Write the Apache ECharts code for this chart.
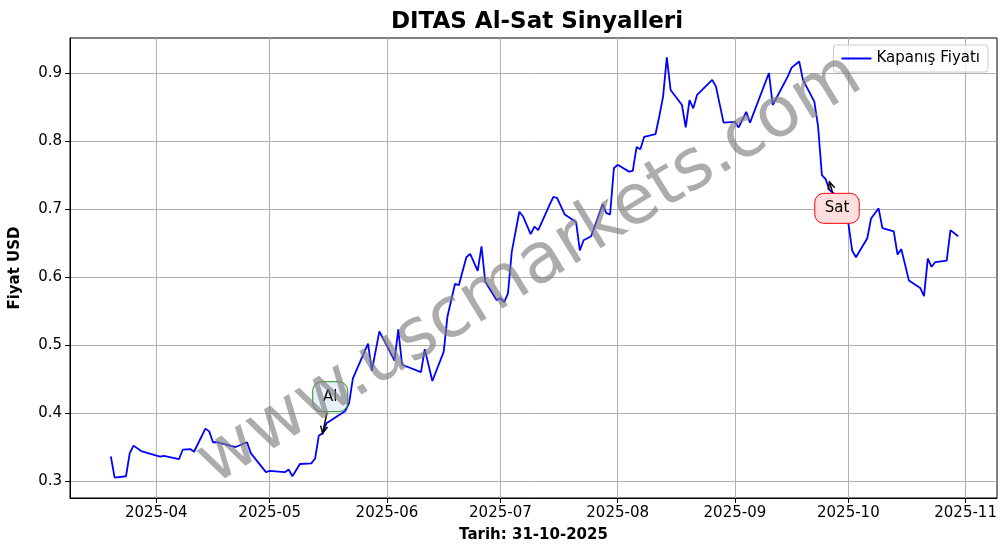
<!DOCTYPE html>
<html><head><meta charset="utf-8">
<script src="https://cdn.jsdelivr.net/npm/echarts@6/dist/echarts.min.js"></script>
<style>html,body{margin:0;padding:0;background:#fff}#c{width:1006px;height:554px}</style>
</head><body><div id="c"></div>
<script>
const dates = ['2025-03-20','2025-03-21','2025-03-24','2025-03-25','2025-03-26','2025-03-28','2025-04-02','2025-04-03','2025-04-07','2025-04-08','2025-04-10','2025-04-11','2025-04-14','2025-04-15','2025-04-16','2025-04-17','2025-04-22','2025-04-25','2025-04-26','2025-04-28','2025-04-30','2025-05-01','2025-05-05','2025-05-06','2025-05-07','2025-05-09','2025-05-12','2025-05-13','2025-05-14','2025-05-15','2025-05-16','2025-05-21','2025-05-22','2025-05-23','2025-05-27','2025-05-28','2025-05-30','2025-06-03','2025-06-04','2025-06-05','2025-06-10','2025-06-11','2025-06-13','2025-06-16','2025-06-17','2025-06-19','2025-06-20','2025-06-22','2025-06-23','2025-06-25','2025-06-26','2025-06-27','2025-06-30','2025-07-01','2025-07-02','2025-07-03','2025-07-04','2025-07-06','2025-07-07','2025-07-09','2025-07-10','2025-07-11','2025-07-14','2025-07-15','2025-07-16','2025-07-18','2025-07-21','2025-07-22','2025-07-23','2025-07-25','2025-07-28','2025-07-29','2025-07-30','2025-07-31','2025-08-01','2025-08-04','2025-08-05','2025-08-06','2025-08-07','2025-08-08','2025-08-11','2025-08-12','2025-08-13','2025-08-14','2025-08-15','2025-08-18','2025-08-19','2025-08-20','2025-08-21','2025-08-22','2025-08-26','2025-08-27','2025-08-29','2025-09-01','2025-09-02','2025-09-04','2025-09-05','2025-09-10','2025-09-11','2025-09-15','2025-09-16','2025-09-18','2025-09-19','2025-09-22','2025-09-23','2025-09-24','2025-09-25','2025-09-26','2025-09-29','2025-10-01','2025-10-02','2025-10-03','2025-10-06','2025-10-07','2025-10-09','2025-10-10','2025-10-13','2025-10-14','2025-10-15','2025-10-17','2025-10-20','2025-10-21','2025-10-22','2025-10-23','2025-10-24','2025-10-27','2025-10-28','2025-10-30'];
const closes = [0.336,0.305,0.307,0.341,0.352,0.344,0.336,0.337,0.332,0.346,0.347,0.343,0.377,0.373,0.357,0.357,0.350,0.357,0.341,0.327,0.313,0.315,0.313,0.317,0.307,0.325,0.326,0.333,0.367,0.370,0.385,0.403,0.415,0.451,0.502,0.462,0.520,0.477,0.523,0.471,0.460,0.494,0.447,0.490,0.542,0.590,0.588,0.629,0.634,0.609,0.645,0.593,0.566,0.569,0.563,0.576,0.637,0.696,0.689,0.663,0.674,0.669,0.706,0.718,0.716,0.692,0.681,0.639,0.654,0.660,0.707,0.694,0.692,0.760,0.765,0.755,0.756,0.791,0.788,0.806,0.810,0.836,0.865,0.923,0.875,0.853,0.820,0.860,0.848,0.868,0.890,0.880,0.827,0.828,0.820,0.843,0.827,0.900,0.853,0.895,0.908,0.917,0.890,0.858,0.821,0.750,0.744,0.728,0.715,0.679,0.639,0.629,0.657,0.686,0.701,0.672,0.667,0.633,0.641,0.595,0.584,0.572,0.627,0.615,0.622,0.624,0.669,0.660];
const monthTicks = ['2025-04-01','2025-05-01','2025-06-01','2025-07-01','2025-08-01','2025-09-01','2025-10-01','2025-11-01'];
const yTicks = [0.3,0.4,0.5,0.6,0.7,0.8,0.9];
const signalLabels = ['Al','Sat'];
const signalPointDates = ['2025-05-15','2025-09-26'];
const signalPointValues = [0.370,0.740];
const signalBoxDates = ['2025-05-17','2025-09-28'];
const signalBoxValues = [0.424,0.701];

const ts = s => new Date(s + 'T00:00:00Z').getTime();
const DAY = 86400000;
const chart = echarts.init(document.getElementById('c'));
const font = 'DejaVu Sans';
chart.setOption({
  animation:false,
  textStyle:{fontFamily:font},
  title:{text:'DITAS Al-Sat Sinyalleri',left:532,top:6,textAlign:'center',textStyle:{fontSize:23,fontWeight:'bold',color:'#000',fontFamily:font}},
  grid:{left:68,right:9,top:38,bottom:56,show:true,borderColor:'#000',borderWidth:1,backgroundColor:'transparent'},
  legend:{right:18,top:45,orient:'vertical',itemWidth:30,itemHeight:2,itemGap:8,padding:[6,8],borderColor:'#ccc',borderWidth:1,borderRadius:3,backgroundColor:'rgba(255,255,255,0.8)',textStyle:{fontSize:15,color:'#000'},icon:'rect',data:['Kapanış Fiyatı']},
  xAxis:{type:'value',scale:true,min:ts('2025-04-01')-22.8*DAY,max:ts('2025-04-01')+222.3*DAY,
    name:'Tarih: 31-10-2025',nameLocation:'middle',nameGap:30,nameTextStyle:{fontSize:15,fontWeight:'bold',color:'#000'},
    axisLine:{lineStyle:{color:'#000'}},
    axisTick:{customValues:monthTicks.map(ts),length:5,lineStyle:{color:'#000'}},
    axisLabel:{customValues:monthTicks.map(ts),fontSize:15,color:'#000',formatter:v=>{const d=new Date(v);return d.getUTCFullYear()+'-'+String(d.getUTCMonth()+1).padStart(2,'0');}},
    splitLine:{show:true,lineStyle:{color:'#b0b0b0'}}},
  yAxis:{type:'value',min:0.275,max:0.9515,
    name:'Fiyat USD',nameLocation:'middle',nameGap:47,nameTextStyle:{fontSize:15,fontWeight:'bold',color:'#000'},
    axisLine:{show:true,lineStyle:{color:'#000'}},
    axisTick:{show:true,customValues:yTicks,length:5,lineStyle:{color:'#000'}},
    axisLabel:{customValues:yTicks,fontSize:15,color:'#000',formatter:v=>v.toFixed(1)},
    splitLine:{show:true,lineStyle:{color:'#b0b0b0'}}},
  series:[{name:'Kapanış Fiyatı',type:'line',showSymbol:false,symbol:'none',lineStyle:{color:'#0000ff',width:1.8},itemStyle:{color:'#0000ff'},
    data:dates.map((d,i)=>[ts(d),closes[i]])}]
});
const g=[];
const styles=[{fill:'#e8f0fa',stroke:'#228b22'},{fill:'#fde0de',stroke:'#ff0000'}];
signalLabels.forEach((lab,i)=>{
  const p=chart.convertToPixel({gridIndex:0},[ts(signalPointDates[i]),signalPointValues[i]]);
  const b=chart.convertToPixel({gridIndex:0},[ts(signalBoxDates[i]),signalBoxValues[i]]);
  const w=lab.length*9.5+16,h=30;
  const dx=p[0]-b[0],dy=p[1]-b[1];
  const sgn=dy>0?1:-1;
  const sy=b[1]+sgn*(h/2+1), sx=b[0]+dx*((h/2+1)/Math.abs(dy));
  g.push({type:'line',z:10,shape:{x1:sx,y1:sy,x2:p[0],y2:p[1]},style:{stroke:'#000',lineWidth:1.5}});
  const a=Math.atan2(dy,dx),al=8;
  g.push({type:'polyline',z:10,shape:{points:[[p[0]-al*Math.cos(a-0.45),p[1]-al*Math.sin(a-0.45)],[p[0],p[1]],[p[0]-al*Math.cos(a+0.45),p[1]-al*Math.sin(a+0.45)]]},style:{stroke:'#000',lineWidth:1.5,fill:null}});
  g.push({type:'rect',z:11,shape:{x:b[0]-w/2,y:b[1]-h/2,width:w,height:h,r:9},style:{fill:styles[i].fill,stroke:styles[i].stroke,lineWidth:1}});
  g.push({type:'text',z:12,x:b[0],y:b[1],style:{text:lab,fontSize:15,fontFamily:font,fill:'#000',align:'center',verticalAlign:'middle'}});
});
g.push({type:'text',z:20,x:530,y:270,rotation:31.5*Math.PI/180,style:{text:'www.uscmarkets.com',fontSize:70,fontFamily:font,fill:'rgba(128,128,128,0.65)',align:'center',verticalAlign:'middle'}});
chart.setOption({graphic:g});
</script></body></html>
